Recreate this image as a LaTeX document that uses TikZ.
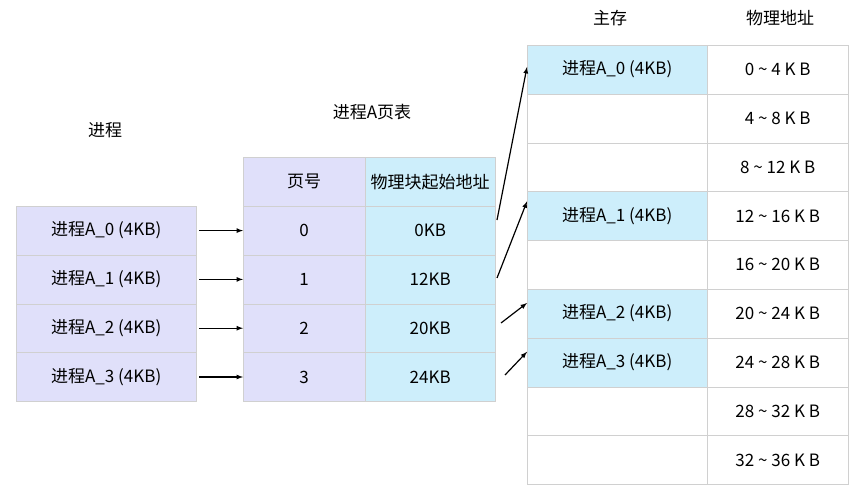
\documentclass[tikz,border=0pt]{standalone}
\usepackage{fontspec}
\setmainfont{Noto Sans CJK SC}
\usetikzlibrary{positioning}
\definecolor{lav}{HTML}{E0E0FA}
\definecolor{sky}{HTML}{CDEEFB}
\definecolor{edge}{HTML}{D0D0D0}
\newcommand{\bigtxt}{\fontsize{17}{20}\selectfont}
\begin{document}
\begin{tikzpicture}[x=1pt,y=-1pt,
  cell/.style={draw=edge,minimum height=48.8pt,inner sep=0,font=\bigtxt,anchor=north west},
  arr/.style={-latex,line width=1.2pt}]
\useasboundingbox (0,0) rectangle (861,500);
% process
\node[font=\bigtxt] at (105,130) {进程};
\foreach \i in {0,...,3}{%
  \node[cell,fill=lav,minimum width=180pt] (p\i) at (16,{206+\i*48.8}) {进程A\_\i\ (4KB)};}
% page table
\node[font=\bigtxt] at (372,112) {进程A页表};
\node[cell,fill=lav,minimum width=122pt] (ph) at (243,157) {页号};
\node[cell,fill=sky,minimum width=130pt] (bh) at (365,157) {物理块起始地址};
\foreach \i/\a in {0/0KB,1/12KB,2/20KB,3/24KB}{%
  \node[cell,fill=lav,minimum width=122pt] (n\i) at (243,{206+\i*48.8}) {\i};
  \node[cell,fill=sky,minimum width=130pt] (b\i) at (365,{206+\i*48.8}) {\a};
  \draw[arr] (p\i.east) ++(3,0) coordinate (s\i) -- (n\i.west);}
% memory
\node[font=\bigtxt] at (610,18) {主存};
\node[font=\bigtxt] at (780,18) {物理地址};
\foreach \i/\lo/\hi in {0/0/4,1/4/8,2/8/12,3/12/16,4/16/20,5/20/24,6/24/28,7/28/32,8/32/36}{%
  \node[cell,minimum width=180pt] (m\i) at (527,{45+\i*48.8}) {};
  \node[cell,minimum width=141pt] (a\i) at (707,{45+\i*48.8}) {\lo\ \textasciitilde\ \hi\ K B};}
\foreach \i/\k in {0/0,3/1,5/2,6/3}{%
  \node[cell,fill=sky,minimum width=180pt] (q\k) at (527,{45+\i*48.8}) {进程A\_\k\ (4KB)};}
\coordinate (t0) at (497,220);
\coordinate (t1) at (497,278);
\coordinate (t2) at (501,323);
\coordinate (t3) at (505,375);
\draw[arr] (t0) -- ([yshift=-22]q0.north west);
\draw[arr] (t1) -- ([yshift=-10]q1.north west);
\draw[arr] (t2) -- ([yshift=-14]q2.north west);
\draw[arr] (t3) -- ([yshift=-14]q3.north west);
\end{tikzpicture}
\end{document}
